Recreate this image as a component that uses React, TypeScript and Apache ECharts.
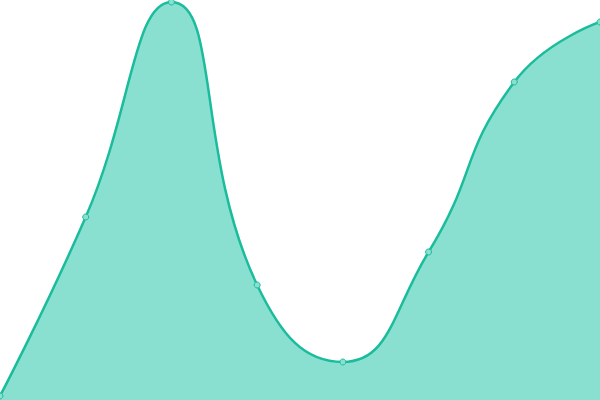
import React, { useEffect, useRef } from "react";
import * as echarts from "echarts";

const categories = ["A", "B", "C", "D", "E", "F", "G", "H"];
const values = [4, 183, 398, 115, 38, 148, 318, 378];

export default function App() {
  const ref = useRef<HTMLDivElement>(null);
  useEffect(() => {
    document.body.style.margin = "0";
    const chart = echarts.init(ref.current!, undefined, { renderer: "svg" });
    chart.setOption({
      animation: false,
      grid: { left: 0, right: 0, top: 0, bottom: 0 },
      xAxis: { type: "category", data: categories, boundaryGap: false, show: false },
      yAxis: { type: "value", min: 0, max: 400, show: false },
      series: [
        {
          type: "line",
          data: values,
          smooth: true,
          symbol: "circle",
          symbolSize: 6,
          lineStyle: { color: "#1abc9c", width: 2.5 },
          itemStyle: { color: "#8ae0d0", borderColor: "#1abc9c", borderWidth: 1 },
          areaStyle: { color: "#8ae0d0", opacity: 1 },
        },
      ],
    });
    return () => chart.dispose();
  }, []);
  return <div ref={ref} style={{ width: 600, height: 400 }} />;
}
